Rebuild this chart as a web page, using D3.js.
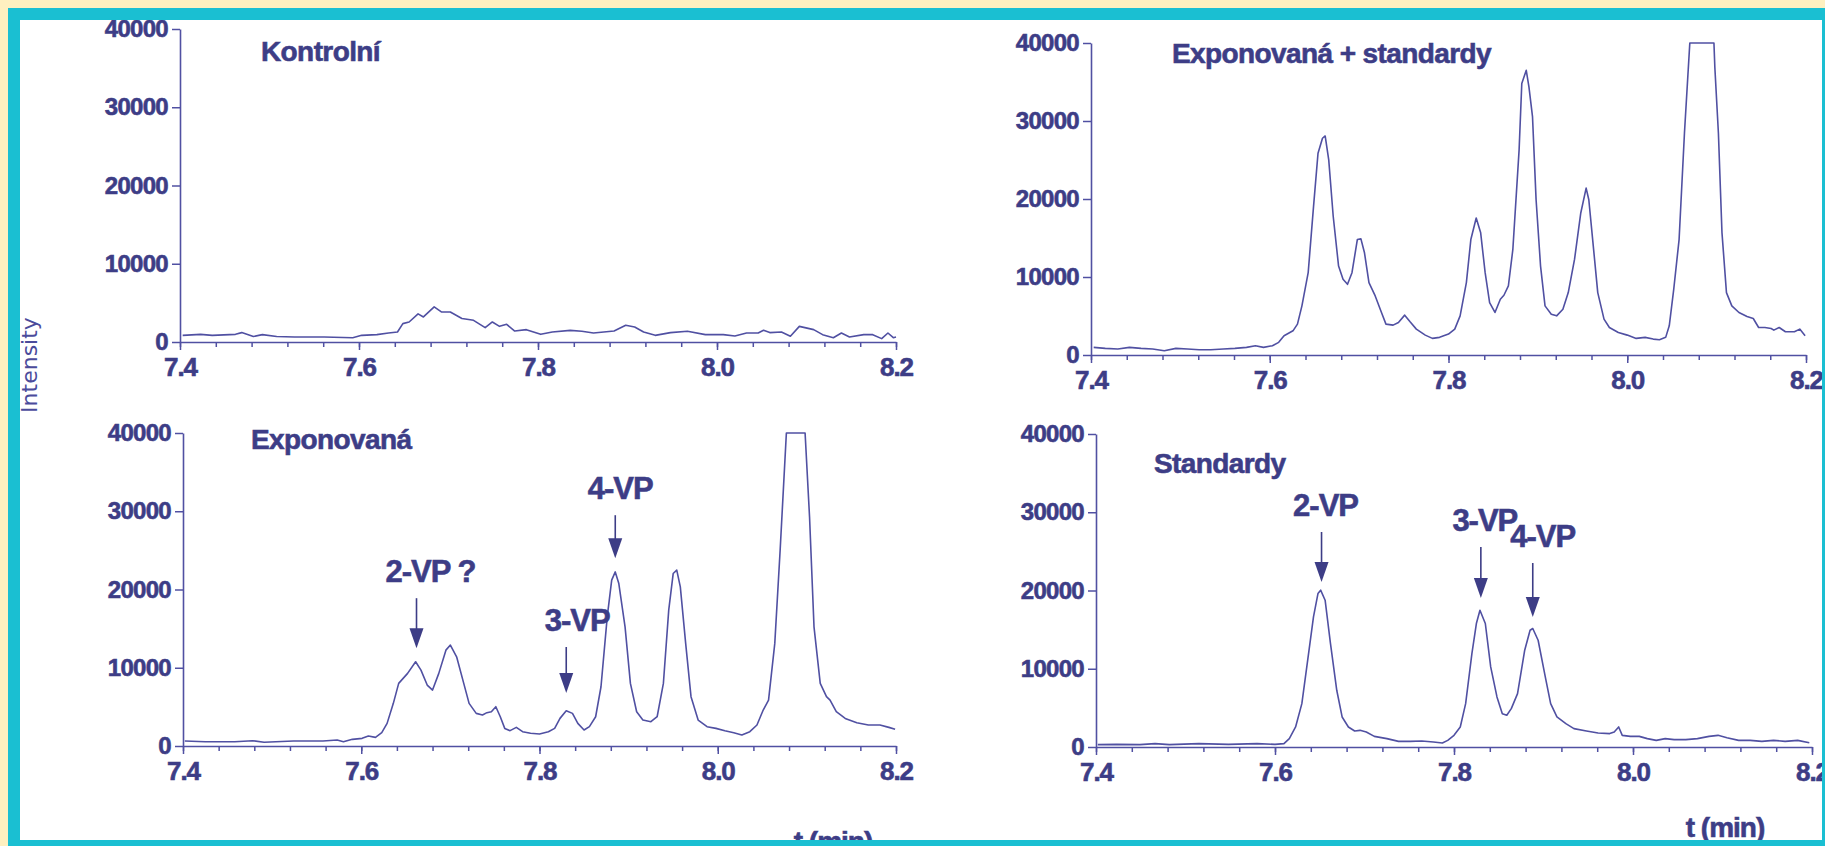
<!DOCTYPE html>
<html>
<head>
<meta charset="utf-8">
<script src="https://cdn.jsdelivr.net/npm/d3@7"></script>
<style>
body { margin: 0; background: #fef0c0; }
svg { display: block; }
</style>
</head>
<body>
<div id="chart"></div>
<script>
// axis ticks
var xTicks = [7.4, 7.6, 7.8, 8.0, 8.2];
var xMinorTicks = d3.range(0, 21).map(function(i) { return +(7.4 + i * 0.04).toFixed(2); });
var yTicks = [0, 10000, 20000, 30000, 40000];

// Kontrolni (top left)
var timeKontrolni = [7.403, 7.423, 7.436, 7.462, 7.469, 7.482, 7.492, 7.508, 7.528, 7.561, 7.593, 7.603, 7.620, 7.633, 7.643, 7.649, 7.656, 7.666, 7.672, 7.684, 7.692, 7.702, 7.715, 7.728, 7.741, 7.749, 7.757, 7.765, 7.774, 7.787, 7.803, 7.816, 7.836, 7.849, 7.862, 7.885, 7.898, 7.908, 7.918, 7.931, 7.948, 7.967, 7.987, 8.007, 8.020, 8.033, 8.046, 8.052, 8.059, 8.072, 8.082, 8.092, 8.108, 8.118, 8.130, 8.139, 8.148, 8.164, 8.174, 8.184, 8.191, 8.197, 8.200];
var intKontrolni = [850, 980, 850, 980, 1200, 700, 940, 700, 640, 640, 550, 850, 940, 1150, 1280, 2350, 2560, 3600, 3200, 4480, 3840, 3840, 3000, 2770, 1830, 2560, 2000, 2260, 1400, 1580, 980, 1280, 1490, 1370, 1150, 1400, 2130, 1920, 1280, 850, 1200, 1370, 940, 940, 770, 1150, 1150, 1490, 1200, 1280, 730, 2000, 1580, 940, 550, 1150, 640, 940, 940, 430, 1150, 550, 640];

// Exponovana + standardy (top right)
var timeExpStd = [7.403, 7.416, 7.430, 7.443, 7.456, 7.469, 7.482, 7.495, 7.508, 7.521, 7.534, 7.548, 7.561, 7.574, 7.584, 7.593, 7.603, 7.610, 7.616, 7.626, 7.631, 7.636, 7.643, 7.649, 7.654, 7.659, 7.662, 7.666, 7.671, 7.677, 7.682, 7.687, 7.692, 7.698, 7.702, 7.706, 7.711, 7.718, 7.725, 7.730, 7.738, 7.744, 7.751, 7.757, 7.764, 7.774, 7.782, 7.790, 7.800, 7.807, 7.813, 7.820, 7.825, 7.831, 7.836, 7.841, 7.846, 7.852, 7.858, 7.862, 7.867, 7.872, 7.879, 7.882, 7.887, 7.890, 7.894, 7.898, 7.903, 7.908, 7.915, 7.921, 7.928, 7.934, 7.941, 7.948, 7.954, 7.957, 7.962, 7.967, 7.974, 7.980, 7.990, 8.000, 8.010, 8.020, 8.029, 8.036, 8.043, 8.047, 8.052, 8.058, 8.064, 8.070, 8.075, 8.097, 8.098, 8.102, 8.106, 8.111, 8.117, 8.125, 8.134, 8.141, 8.147, 8.154, 8.161, 8.164, 8.170, 8.177, 8.187, 8.193, 8.199];
var intExpStd = [980, 850, 770, 980, 850, 770, 550, 850, 770, 680, 680, 770, 850, 980, 1190, 980, 1190, 1620, 2470, 3100, 3960, 6300, 10550, 19060, 25870, 27790, 28080, 25020, 17790, 11400, 9700, 9060, 10550, 14800, 14890, 13100, 9280, 7570, 5450, 3960, 3830, 4170, 5110, 4250, 3320, 2550, 2130, 2260, 2680, 3320, 5020, 9280, 14800, 17570, 15660, 10550, 6720, 5450, 7150, 7660, 8850, 13530, 26300, 34800, 36500, 34380, 30550, 19910, 11400, 6300, 5230, 5020, 5870, 8000, 12250, 18210, 21400, 19910, 13960, 8000, 4600, 3530, 2890, 2550, 2130, 2260, 2040, 1960, 2260, 3740, 8420, 14800, 28420, 40000, 40000, 40000, 36900, 28420, 15660, 8000, 6300, 5450, 4940, 4680, 3530, 3530, 3400, 3190, 3530, 2980, 2980, 3320, 2470];

// Exponovana (bottom left)
var timeExp = [7.402, 7.425, 7.458, 7.478, 7.491, 7.524, 7.557, 7.573, 7.580, 7.590, 7.601, 7.608, 7.616, 7.623, 7.629, 7.636, 7.642, 7.652, 7.661, 7.667, 7.674, 7.680, 7.687, 7.695, 7.700, 7.707, 7.715, 7.721, 7.729, 7.736, 7.741, 7.746, 7.751, 7.756, 7.761, 7.767, 7.774, 7.781, 7.790, 7.800, 7.810, 7.817, 7.823, 7.830, 7.837, 7.843, 7.850, 7.856, 7.863, 7.869, 7.876, 7.881, 7.885, 7.889, 7.896, 7.902, 7.909, 7.916, 7.925, 7.932, 7.939, 7.945, 7.950, 7.954, 7.958, 7.964, 7.970, 7.978, 7.988, 7.998, 8.008, 8.018, 8.027, 8.036, 8.044, 8.051, 8.057, 8.064, 8.070, 8.077, 8.098, 8.103, 8.108, 8.115, 8.122, 8.126, 8.133, 8.143, 8.156, 8.169, 8.182, 8.192, 8.199];
var intExp = [640, 550, 550, 680, 470, 640, 640, 770, 550, 850, 980, 1280, 1100, 1700, 2890, 5450, 8000, 9280, 10770, 9700, 7790, 7150, 9280, 12250, 12900, 11400, 8000, 5450, 4170, 3960, 4260, 4380, 5020, 3740, 2250, 1960, 2380, 1830, 1620, 1530, 1830, 2250, 3530, 4510, 4170, 2890, 2040, 2470, 3740, 7570, 16510, 21190, 22250, 20760, 15230, 8000, 4380, 3320, 3100, 3740, 8000, 17360, 22040, 22470, 20340, 13110, 6300, 3320, 2470, 2250, 1960, 1700, 1400, 1830, 2680, 4600, 5870, 13110, 25020, 40000, 40000, 29270, 15230, 8000, 6300, 5870, 4380, 3530, 2980, 2680, 2680, 2380, 2130];

// Standardy (bottom right)
var timeStd = [7.402, 7.423, 7.449, 7.466, 7.482, 7.515, 7.548, 7.580, 7.600, 7.610, 7.616, 7.623, 7.630, 7.636, 7.643, 7.648, 7.651, 7.656, 7.662, 7.669, 7.675, 7.682, 7.689, 7.695, 7.702, 7.711, 7.725, 7.738, 7.751, 7.764, 7.777, 7.787, 7.793, 7.800, 7.807, 7.813, 7.820, 7.825, 7.829, 7.835, 7.841, 7.848, 7.854, 7.859, 7.864, 7.871, 7.879, 7.885, 7.888, 7.894, 7.902, 7.908, 7.915, 7.925, 7.934, 7.948, 7.961, 7.974, 7.979, 7.984, 7.988, 7.997, 8.007, 8.016, 8.026, 8.036, 8.046, 8.059, 8.072, 8.085, 8.095, 8.105, 8.118, 8.131, 8.144, 8.157, 8.170, 8.184, 8.197];
var intStd = [300, 340, 300, 430, 300, 430, 340, 430, 340, 430, 1070, 2560, 5540, 10660, 16630, 19610, 20040, 18760, 13220, 7250, 3840, 2560, 2050, 2130, 1920, 1360, 1070, 720, 720, 770, 640, 510, 850, 1490, 2560, 5540, 11940, 15780, 17480, 15780, 10230, 6400, 4260, 4050, 4900, 6820, 12370, 14920, 15140, 13640, 8950, 5540, 3840, 2980, 2350, 2050, 1790, 1710, 1920, 2560, 1490, 1360, 1360, 1070, 850, 1070, 940, 940, 1070, 1360, 1490, 1190, 850, 850, 720, 850, 720, 850, 550];

// peak labels
var expLabels = ["2-VP ?", "3-VP", "4-VP"];
var expLabelTime = [7.662, 7.830, 7.885];
var expArrowTip = [12500, 6770, 24000];
var stdLabels = ["2-VP", "3-VP", "4-VP"];
var stdLabelTime = [7.652, 7.830, 7.888];
var stdArrowTip = [21090, 19040, 16610];

var textColor = "#3d3d86";
var lineColor = "#5050a2";
var fontBold = "'Liberation Sans', Arial, sans-serif";

var width = 1825, height = 846;

var svg = d3.select("#chart")
    .append("svg")
    .attr("width", width)
    .attr("height", height);

svg.append("rect")
    .attr("width", width).attr("height", height)
    .attr("fill", "#fef0c0");
svg.append("rect")
    .attr("x", 20).attr("y", 20)
    .attr("width", 1802).attr("height", 820)
    .attr("fill", "#ffffff");

// heavy bold text like the scanned figure
function heavy(sel, size, spacing)
{
    sel.attr("fill", textColor)
        .attr("stroke", textColor)
        .attr("stroke-width", 0.6)
        .style("font-family", fontBold)
        .style("font-weight", "bold")
        .style("font-size", size + "px")
        .style("letter-spacing", spacing + "px");
    return sel;
}

function draw_panel(p, times, values)
{
    var x = d3.scaleLinear().domain([7.4, 8.2]).range([p.left, p.right]);
    var y = d3.scaleLinear().domain([0, 40000]).range([p.bottom, p.top]);

    var data = times.map(function(t, i) { return [t, values[i]]; });

    // minor ticks
    var gm = svg.append("g")
        .attr("transform", "translate(0," + p.bottom + ")")
        .call(d3.axisBottom(x).tickValues(xMinorTicks).tickSize(5).tickSizeOuter(0).tickFormat(""));
    gm.select(".domain").remove();
    gm.selectAll("line").attr("stroke", lineColor).attr("stroke-width", 1.5);

    var gx = svg.append("g")
        .attr("transform", "translate(0," + p.bottom + ")")
        .call(d3.axisBottom(x).tickValues(xTicks).tickSize(8).tickSizeOuter(0).tickPadding(8)
            .tickFormat(d3.format(".1f")));
    gx.select(".domain").attr("stroke", lineColor).attr("stroke-width", 1.6);
    gx.selectAll("line").attr("stroke", lineColor).attr("stroke-width", 1.5);
    heavy(gx.selectAll("text"), 26, -1);

    var gy = svg.append("g")
        .attr("transform", "translate(" + p.left + ",0)")
        .call(d3.axisLeft(y).tickValues(yTicks).tickSize(8).tickSizeOuter(0).tickPadding(4)
            .tickFormat(d3.format("d")));
    gy.select(".domain").attr("stroke", lineColor).attr("stroke-width", 1.6);
    gy.selectAll("line").attr("stroke", lineColor).attr("stroke-width", 1.5);
    heavy(gy.selectAll("text"), 24, -0.7);

    svg.append("path")
        .datum(data)
        .attr("fill", "none")
        .attr("stroke", lineColor)
        .attr("stroke-width", 1.6)
        .attr("stroke-linejoin", "round")
        .attr("d", d3.line()
            .x(function(d) { return x(d[0]); })
            .y(function(d) { return y(d[1]); }));

    heavy(svg.append("text"), 28, -0.6)
        .attr("x", p.titleX)
        .attr("y", p.titleY)
        .text(p.title);

    return {x: x, y: y};
}

function draw_labels(sc, labels, times, tips, dx, lens)
{
    labels.forEach(function(lab, i) {
        var ax = sc.x(times[i]);
        var tip = sc.y(tips[i]);
        var top = tip - lens[i];
        svg.append("line")
            .attr("x1", ax).attr("x2", ax)
            .attr("y1", top).attr("y2", tip - 12)
            .attr("stroke", textColor)
            .attr("stroke-width", 1.6);
        svg.append("path")
            .attr("d", "M" + (ax - 7) + "," + (tip - 20) + "L" + (ax + 7) + "," + (tip - 20) + "L" + ax + "," + tip + "Z")
            .attr("fill", textColor);
        heavy(svg.append("text"), 31, -1)
            .attr("x", ax + dx[i])
            .attr("y", top - 16)
            .attr("text-anchor", "middle")
            .text(lab);
    });
}

draw_panel({left: 180, right: 896, top: 29, bottom: 342, title: "Kontrolní", titleX: 261, titleY: 61},
    timeKontrolni, intKontrolni);
draw_panel({left: 1091, right: 1806, top: 43, bottom: 355, title: "Exponovaná + standardy", titleX: 1172, titleY: 63},
    timeExpStd, intExpStd);
var scExp = draw_panel({left: 183, right: 896, top: 433, bottom: 746, title: "Exponovaná", titleX: 251, titleY: 449},
    timeExp, intExp);
var scStd = draw_panel({left: 1096, right: 1812, top: 434, bottom: 747, title: "Standardy", titleX: 1154, titleY: 473},
    timeStd, intStd);

draw_labels(scExp, expLabels, expLabelTime, expArrowTip, [14, 11, 5], [50, 46, 43]);
draw_labels(scStd, stdLabels, stdLabelTime, stdArrowTip, [4, 4, 10], [50, 51, 54]);

// axis titles
svg.append("text")
    .attr("transform", "translate(37,365)rotate(-90)")
    .attr("text-anchor", "middle")
    .attr("fill", "#4b4b9b")
    .style("font-family", "'DejaVu Sans', sans-serif")
    .style("font-size", "22px")
    .text("Intensity");

[[833, 851], [1725, 837]].forEach(function(pos) {
    heavy(svg.append("text"), 28, -1)
        .attr("x", pos[0]).attr("y", pos[1])
        .attr("text-anchor", "middle")
        .text("t (min)");
});

// cyan frame on top, it clips the labels at the edges as in the original
svg.append("path")
    .attr("d", "M8,8H1845V860H8Z M20,20V840H1822V20Z")
    .attr("fill", "#1abfd2")
    .attr("fill-rule", "evenodd");
</script>
</body>
</html>
